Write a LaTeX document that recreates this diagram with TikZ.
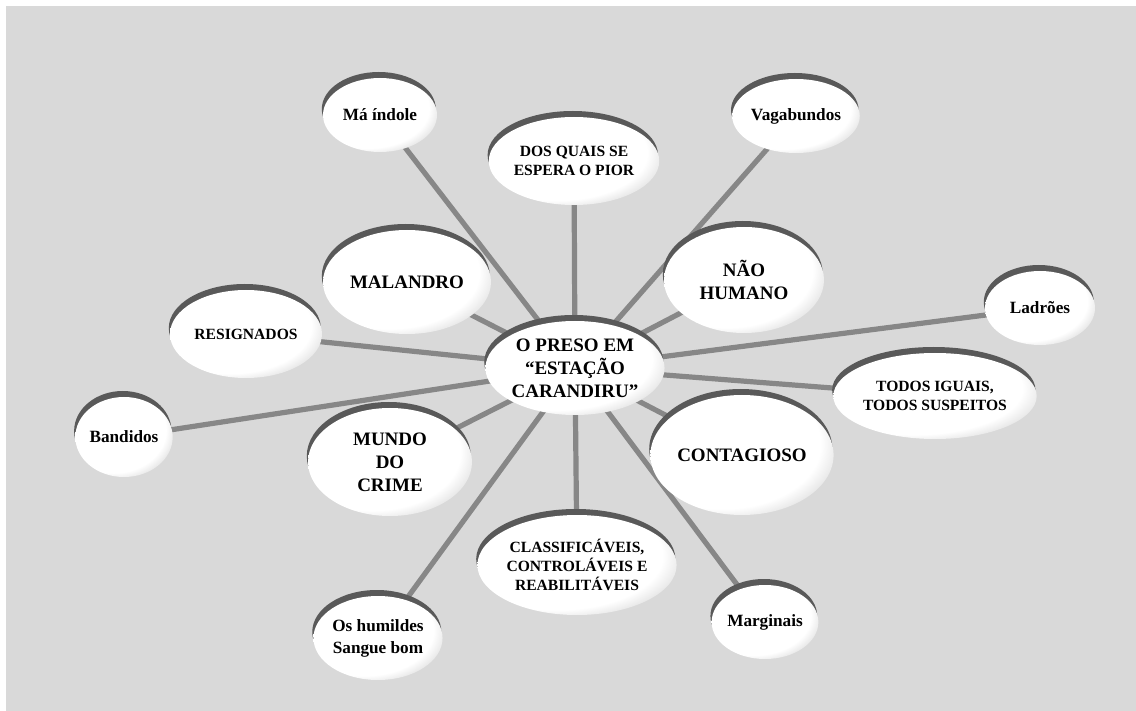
\documentclass[tikz,border=0pt]{standalone}
\usepackage{fontspec}
\setmainfont{Liberation Serif}[BoldFont={Liberation Serif Bold}]
\newfontfamily\serifa{Liberation Serif}[BoldFont={Liberation Serif Bold}]
\usetikzlibrary{shapes.geometric,shadows,backgrounds}
\pgfdeclareradialshading{bolha}{\pgfpoint{-12bp}{10bp}}{color(0bp)=(white); color(27bp)=(white); color(33bp)=(black!14); color(41bp)=(black!50); color(50bp)=(black!55)}

\begin{document}
\begin{tikzpicture}[x=0.5pt,y=-0.5pt,
  bolha/.style={ellipse,inner sep=0pt,align=center,shading=bolha,
    general shadow={shadow yshift=3pt,shadow xshift=-0.6pt,fill=black!65}},
  grande/.style={font=\serifa\fontsize{9.5}{11.5}\selectfont\bfseries},
  pequena/.style={font=\serifa\fontsize{7.8}{9.5}\selectfont\bfseries},
  media/.style={font=\serifa\fontsize{8.6}{11}\selectfont\bfseries},
  raio/.style={line width=2.6pt,draw=black!47}]
\useasboundingbox (0,0) rectangle (1136,711);

\node[bolha,grande,minimum width=75pt,minimum height=47pt] (preso) at (575,368) {O PRESO EM\\“ESTAÇÃO\\CARANDIRU”};

\node[bolha,media,minimum width=57pt,minimum height=37pt] (indole) at (380,115) {Má índole};
\node[bolha,pequena,minimum width=74pt,minimum height=44pt] (pior) at (574,161) {DOS QUAIS SE\\ESPERA O PIOR};
\node[bolha,media,minimum width=57pt,minimum height=37pt] (vagabundos) at (796,116) {Vagabundos};
\node[bolha,grande,minimum width=84pt,minimum height=52pt] (malandro) at (407,282) {MALANDRO};
\node[bolha,grande,minimum width=80pt,minimum height=53pt] (naohumano) at (744,280) {NÃO\\HUMANO};
\node[bolha,pequena,minimum width=76pt,minimum height=44pt] (resignados) at (246,334) {RESIGNADOS};
\node[bolha,media,minimum width=55pt,minimum height=37pt] (ladroes) at (1040,308) {Ladrões};
\node[bolha,pequena,minimum width=78pt,minimum height=43pt] (suspeitos) at (935,396) {TODOS IGUAIS,\\TODOS SUSPEITOS};
\node[bolha,media,minimum width=44pt,minimum height=40pt] (bandidos) at (124,437) {Bandidos};
\node[bolha,grande,minimum width=82pt,minimum height=54pt] (mundo) at (390,462) {MUNDO\\DO\\CRIME};
\node[bolha,grande,minimum width=80pt,minimum height=60pt] (contagioso) at (742,455) {CONTAGIOSO};
\node[bolha,pequena,minimum width=77pt,minimum height=50pt] (classificaveis) at (577,565) {CLASSIFICÁVEIS,\\CONTROLÁVEIS E\\REABILITÁVEIS};
\node[bolha,media,minimum width=55pt,minimum height=42pt] (humildes) at (378,638) {Os humildes\\Sangue bom};
\node[bolha,media,minimum width=50pt,minimum height=37pt] (marginais) at (765,622) {Marginais};

\begin{scope}[on background layer]
\fill[black!15] (6,6) rectangle (1136,711);
\foreach \n in {indole,pior,vagabundos,malandro,naohumano,resignados,ladroes,suspeitos,bandidos,mundo,contagioso,classificaveis,humildes,marginais}
  \draw[raio] (preso.center) -- (\n.center);
\end{scope}
\end{tikzpicture}
\end{document}
